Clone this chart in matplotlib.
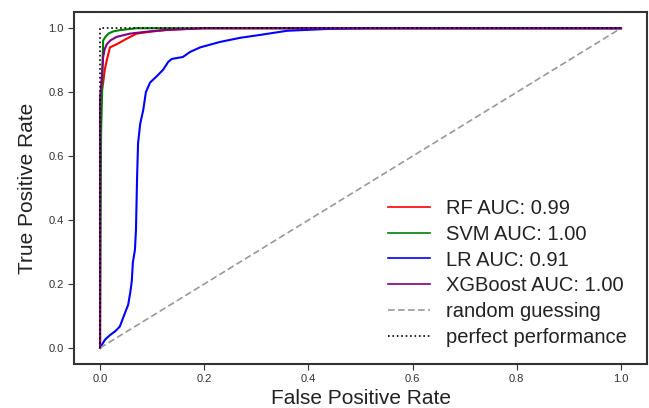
import matplotlib
matplotlib.use("Agg")
import matplotlib.pyplot as plt
import numpy as np

# Data
rf_fpr = [0.0, 0.0, 0.002, 0.004, 0.006, 0.009, 0.013, 0.019, 0.032, 0.051, 0.07, 0.10, 0.13, 0.2, 1.0]
rf_tpr = [0.0, 0.70, 0.78, 0.81, 0.83, 0.87, 0.90, 0.94, 0.95, 0.967, 0.983, 0.99, 0.995, 1.0, 1.0]

svm_fpr = [0.0, 0.002, 0.004, 0.005, 0.006, 0.010, 0.016, 0.025, 0.038, 0.07, 1.0]
svm_tpr = [0.0, 0.67, 0.80, 0.90, 0.962, 0.972, 0.983, 0.99, 0.994, 1.0, 1.0]

lr_fpr = [0.0, 0.0096, 0.019, 0.029, 0.038, 0.048, 0.054, 0.058, 0.061, 0.063, 0.067, 0.069,
          0.071, 0.073, 0.077, 0.083, 0.088, 0.096, 0.109, 0.121, 0.131, 0.138, 0.159, 0.173,
          0.192, 0.23, 0.269, 0.307, 0.359, 0.44, 0.52, 1.0]
lr_tpr = [0.0, 0.026, 0.04, 0.052, 0.067, 0.11, 0.135, 0.173, 0.21, 0.267, 0.307, 0.37,
          0.526, 0.64, 0.70, 0.745, 0.80, 0.83, 0.85, 0.87, 0.895, 0.904, 0.91, 0.926,
          0.94, 0.957, 0.97, 0.979, 0.992, 0.998, 1.0, 1.0]

xgb_fpr = [0.0, 0.0, 0.003, 0.006, 0.009, 0.013, 0.02, 0.032, 0.057, 0.089, 0.13, 0.2, 1.0]
xgb_tpr = [0.0, 0.78, 0.84, 0.91, 0.935, 0.95, 0.962, 0.973, 0.983, 0.989, 0.995, 1.0, 1.0]

labels = ["RF AUC: 0.99", "SVM AUC: 1.00", "LR AUC: 0.91", "XGBoost AUC: 1.00",
          "random guessing", "perfect performance"]
colors = ["red", "green", "blue", "purple"]

plt.rcParams['font.family'] = ['Liberation Sans', 'DejaVu Sans']

fig = plt.figure(figsize=(6.49, 4.08), dpi=100)
ax = fig.add_axes([0.114, 0.108, 0.883, 0.862])

curves = [(rf_fpr, rf_tpr), (svm_fpr, svm_tpr), (lr_fpr, lr_tpr), (xgb_fpr, xgb_tpr)]
for (f, t), c, lab in zip(curves, colors, labels[:4]):
    ax.plot(f, t, color=c, lw=1.5, label=lab)

ax.plot([0, 1], [0, 1], linestyle=(0, (4, 2)), color=(0.6, 0.6, 0.6), lw=1.2, label=labels[4])
ax.plot([0, 0, 1], [0, 1, 1], linestyle=':', color='black', lw=1.2, label=labels[5])

ax.set_xlim(-0.05, 1.05)
ax.set_ylim(-0.05, 1.05)
ax.set_xticks([0, 0.2, 0.4, 0.6, 0.8, 1.0])
ax.set_yticks([0, 0.2, 0.4, 0.6, 0.8, 1.0])
ax.set_xticklabels(["0.0", "0.2", "0.4", "0.6", "0.8", "1.0"])
ax.set_yticklabels(["0.0", "0.2", "0.4", "0.6", "0.8", "1.0"])
ax.tick_params(labelsize=8, colors='#333333', length=4, width=0.8, direction='out')
for s in ax.spines.values():
    s.set_color('#333333')
    s.set_linewidth(1.5)

ax.set_xlabel("False Positive Rate", fontsize=15, color='#222222', labelpad=3)
ax.set_ylabel("True Positive Rate", fontsize=15, color='#222222', labelpad=8)

leg = ax.legend(loc='lower right', frameon=False, fontsize=14.5, handlelength=2.1,
                labelspacing=0.34, handletextpad=0.75, borderaxespad=0.0,
                bbox_to_anchor=(0.978, 0.025))
for line in leg.get_lines():
    line.set_linewidth(1.2)
for t in leg.get_texts():
    t.set_color('#222222')

fig.savefig("out.png", dpi=100)
